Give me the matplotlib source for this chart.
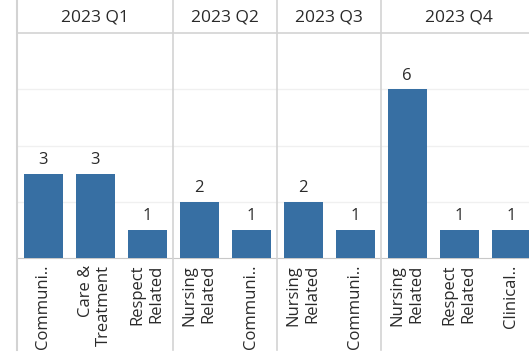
import matplotlib.pyplot as plt

plt.rcParams['font.family'] = ['Open Sans', 'DejaVu Sans']

quarters = ['2023 Q1', '2023 Q2', '2023 Q3', '2023 Q4']
q1_labels = ['Communi..', 'Care &\nTreatment', 'Respect\nRelated']
q1_counts = [3, 3, 1]
q2_labels = ['Nursing\nRelated', 'Communi..']
q2_counts = [2, 1]
q3_labels = ['Nursing\nRelated', 'Communi..']
q3_counts = [2, 1]
q4_labels = ['Nursing\nRelated', 'Respect\nRelated', 'Clinical..']
q4_counts = [6, 1, 1]

groups = [(q1_labels, q1_counts), (q2_labels, q2_counts),
          (q3_labels, q3_counts), (q4_labels, q4_counts)]

labels, counts, spans = [], [], []
for lab, cnt in groups:
    start = len(labels)
    labels += lab
    counts += cnt
    spans.append((start, len(labels) - 1))

W, H = 529, 353
bar_color = '#376fa3'
line_color = '#d3d3d3'
text_color = '#2a2a2a'

fig = plt.figure(figsize=(W / 100, H / 100), dpi=100)
left = 17 / W
width = 52 * len(labels) / W
base = 258
top = 33

ax = fig.add_axes([left, (H - base) / H, width, (base - top) / H])
x = list(range(len(labels)))
ax.bar(x, counts, width=0.75, color=bar_color, zorder=3)
for xi, c in zip(x, counts):
    ax.annotate(str(c), (xi, c), xytext=(0, 4), textcoords='offset points',
                ha='center', va='bottom', fontsize=12, color=text_color)
ax.set_xlim(-0.5, len(labels) - 0.5)
ax.set_ylim(0, 8)
ax.set_yticks([2, 4, 6])
ax.yaxis.grid(True, color='#f0f0f0', linewidth=1)
ax.tick_params(axis='y', left=False, labelleft=False)
ax.set_xticks(x)
ax.set_xticklabels(labels, rotation=90, fontsize=12, color=text_color,
                   ha='center', va='top', multialignment='right')
ax.tick_params(axis='x', length=0, pad=5)
for s in ['top', 'right', 'left']:
    ax.spines[s].set_visible(False)
ax.spines['bottom'].set_color('#c8c8c8')

# overlay in pixel rows for the header and the panel dividers
ov = fig.add_axes([left, 0, width, 1], zorder=5)
ov.set_xlim(-0.5, len(labels) - 0.5)
ov.set_ylim(H, 0)
ov.axis('off')
ov.patch.set_alpha(0)
ov.axhline(top, color=line_color, linewidth=1.2)
ov.plot([-0.5, -0.5], [0, H - 3], color=line_color, linewidth=1.5, clip_on=False)
for (a, b), q in zip(spans, quarters):
    ov.text((a + b) / 2, 17, q, ha='center', va='center', fontsize=12.5,
            color=text_color)
    if a > 0:
        ov.plot([a - 0.5, a - 0.5], [0, H - 3], color=line_color, linewidth=1.2)

fig.savefig('out.png', dpi=100)
